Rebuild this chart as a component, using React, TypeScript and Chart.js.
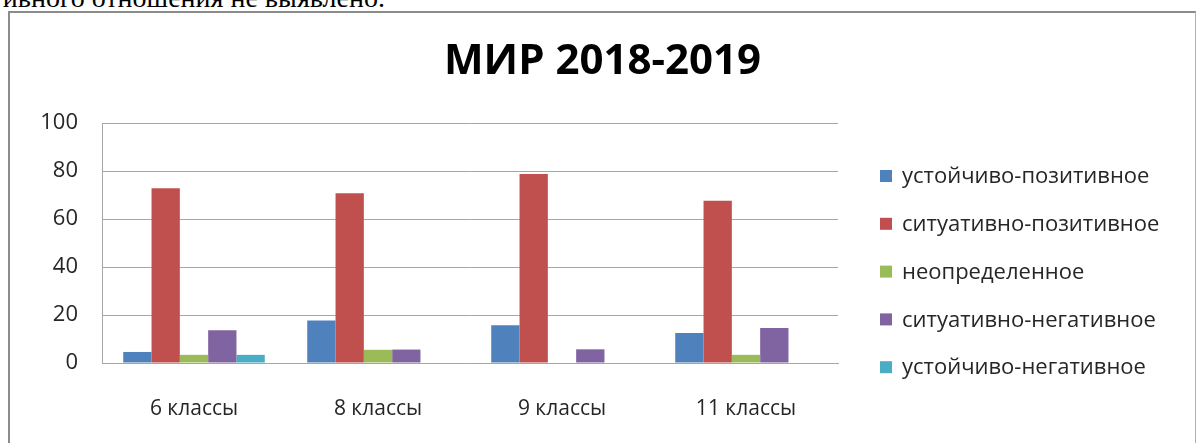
import React, { useEffect, useRef } from "react";
import { Chart, registerables, layouts } from "chart.js";

Chart.register(...registerables);

const categories = ["6 классы", "8 классы", "9 классы", "11 классы"];
const seriesNames = [
  "устойчиво-позитивное",
  "ситуативно-позитивное",
  "неопределенное",
  "ситуативно-негативное",
  "устойчиво-негативное",
];
const stablePositive = [4.6, 17.7, 15.7, 12.5];
const situativePositive = [72.8, 70.7, 78.7, 67.6];
const uncertain = [3.4, 5.5, 0, 3.4];
const situativeNegative = [13.6, 5.6, 5.7, 14.6];
const stableNegative = [3.4, 0, 0, 0];
const seriesColors = ["#4F81BD", "#C0504D", "#9BBB59", "#8064A2", "#4BACC6"];
const titleText = "МИР 2018-2019";
const yMin = 0;
const yMax = 100;
const yStep = 20;

const FONT = '"Open Sans", "Noto Sans", sans-serif';
const TEXT_COLOR = "#262626";
const GRID_COLOR = "#a6a6a6";
const LEGEND_SPACE = 357;

// Reserves room on the right for the legend without shrinking the full-width title.
const legendSpacer = {
  id: "legendSpacer",
  beforeInit(chart: any) {
    const box: any = {
      position: "right",
      weight: 100,
      fullSize: false,
      options: { stack: undefined, stackWeight: 1 },
      left: 0,
      top: 0,
      right: 0,
      bottom: 0,
      width: 0,
      height: 0,
      isHorizontal() {
        return false;
      },
      update(maxWidth: number, maxHeight: number) {
        this.width = LEGEND_SPACE;
        this.height = maxHeight;
      },
      draw() {},
    };
    layouts.addBox(chart, box);
  },
};

const sideLegend = {
  id: "sideLegend",
  afterDraw(chart: any) {
    const { ctx, chartArea } = chart;
    const x0 = chartArea.right + 42;
    const y0 = chartArea.top + 54;
    const step = 47.8;
    ctx.save();
    ctx.font = `22px ${FONT}`;
    ctx.textBaseline = "middle";
    ctx.textAlign = "left";
    chart.data.datasets.forEach((ds: any, i: number) => {
      const y = y0 + i * step;
      ctx.fillStyle = ds.backgroundColor;
      ctx.fillRect(x0, y - 7, 12, 12);
      ctx.fillStyle = TEXT_COLOR;
      ctx.fillText(ds.label, x0 + 22, y);
    });
    ctx.restore();
  },
};

export default function App() {
  const canvasRef = useRef<HTMLCanvasElement | null>(null);

  useEffect(() => {
    if (!canvasRef.current) return;
    const values = [stablePositive, situativePositive, uncertain, situativeNegative, stableNegative];
    const chart = new Chart(canvasRef.current, {
      type: "bar",
      data: {
        labels: categories,
        datasets: seriesNames.map((name, i) => ({
          label: name,
          data: values[i],
          backgroundColor: seriesColors[i],
          borderWidth: 0,
          categoryPercentage: 5 / 6.5,
          barPercentage: 1,
        })),
      },
      options: {
        responsive: false,
        animation: false,
        layout: { padding: { left: 0, right: 0, top: 0, bottom: 0 } },
        plugins: {
          legend: { display: false },
          tooltip: { enabled: false },
          title: {
            display: true,
            text: titleText,
            color: "#000000",
            font: { family: FONT, size: 42, weight: "bold", lineHeight: 1.2 },
            padding: { top: 24, bottom: 35.6 },
          },
        },
        scales: {
          x: {
            grid: { display: false, drawTicks: false },
            border: { display: true, color: GRID_COLOR, width: 1 },
            ticks: {
              color: TEXT_COLOR,
              font: { family: FONT, size: 21 },
              padding: 33,
              maxRotation: 0,
            },
            afterFit: (scale: any) => {
              scale.height = 80;
            },
          },
          y: {
            min: yMin,
            max: yMax,
            grid: { color: GRID_COLOR, lineWidth: 1, drawTicks: false },
            border: { display: true, color: GRID_COLOR, width: 1 },
            ticks: {
              stepSize: yStep,
              color: TEXT_COLOR,
              font: { family: FONT, size: 22 },
              padding: 24,
            },
            afterFit: (scale: any) => {
              scale.width = 92;
            },
          },
        },
      },
      plugins: [legendSpacer, sideLegend],
    });
    return () => chart.destroy();
  }, []);

  return (
    <div
      style={{
        position: "absolute",
        left: 0,
        top: 0,
        width: 1196,
        height: 443,
        overflow: "hidden",
        background: "#ffffff",
      }}
    >
      <div
        style={{
          position: "absolute",
          left: 0,
          top: -18,
          width: 385,
          textAlign: "right",
          whiteSpace: "nowrap",
          overflow: "hidden",
          direction: "rtl",
          fontFamily: '"Liberation Serif", "DejaVu Serif", serif',
          fontSize: 28,
          lineHeight: "normal",
          color: "#000",
        }}
      >
        <span style={{ direction: "ltr", unicodeBidi: "embed" }}>
          Ярко выраженного негативного отношения не выявлено.
        </span>
      </div>
      <div
        style={{
          position: "absolute",
          left: 8,
          top: 11,
          width: 1185,
          height: 440,
          borderTop: "2px solid #8c8c8c",
          borderLeft: "2px solid #8c8c8c",
          borderRight: "1px solid #b0b0b0",
          background: "#ffffff",
        }}
      >
        <canvas ref={canvasRef} width={1185} height={430} style={{ display: "block" }} />
      </div>
    </div>
  );
}
